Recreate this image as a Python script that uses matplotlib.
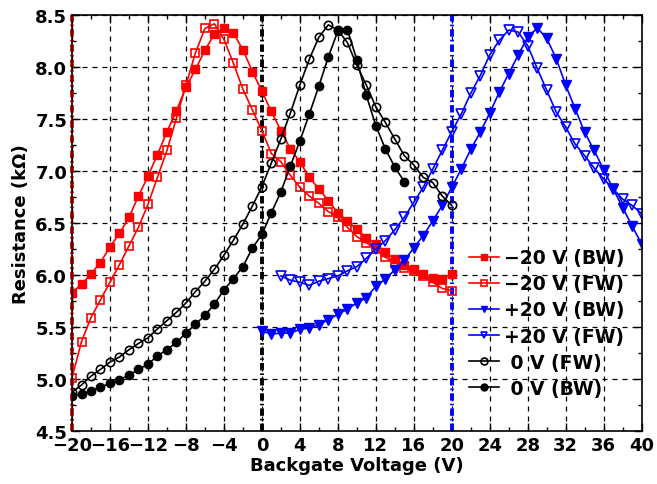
import numpy as np
import matplotlib.pyplot as plt
from matplotlib.ticker import MultipleLocator, FormatStrFormatter

# -20 V pre-bias, backward and forward sweeps
vg_m20 = list(range(-20, 21))
r_m20_bw = [5.83, 5.91, 6.01, 6.12, 6.27, 6.40, 6.555, 6.76, 6.95, 7.16,
            7.38, 7.58, 7.81, 7.98, 8.165, 8.32, 8.38, 8.33, 8.17, 7.96,
            7.77, 7.575, 7.39, 7.215, 7.09, 6.94, 6.83, 6.715, 6.60, 6.52,
            6.44, 6.36, 6.30, 6.22, 6.15, 6.10, 6.056, 6.007, 5.975, 5.96,
            6.007]
r_m20_fw = [5.01, 5.357, 5.59, 5.76, 5.93, 6.10, 6.28, 6.46, 6.68, 6.94,
            7.20, 7.51, 7.83, 8.14, 8.375, 8.42, 8.27, 8.04, 7.79, 7.59,
            7.39, 7.17, 7.09, 6.96, 6.845, 6.76, 6.69, 6.61, 6.555, 6.46,
            6.37, 6.31, 6.25, 6.17, 6.12, 6.07, 6.04, 5.99, 5.93, 5.87,
            5.85]

# +20 V pre-bias
vg_p20_bw = list(range(0, 41))
r_p20_bw = [5.46, 5.43, 5.44, 5.44, 5.475, 5.49, 5.52, 5.57, 5.62, 5.67,
            5.73, 5.78, 5.89, 5.96, 6.05, 6.14, 6.26, 6.38, 6.52, 6.67,
            6.845, 7.02, 7.21, 7.375, 7.56, 7.76, 7.94, 8.12, 8.29, 8.38,
            8.28, 8.085, 7.83, 7.60, 7.375, 7.20, 7.015, 6.83, 6.65, 6.47,
            6.30]
vg_p20_fw = list(range(2, 41))
r_p20_fw = [5.99, 5.95, 5.93, 5.90, 5.94, 5.965, 5.99, 6.04, 6.08, 6.16,
            6.25, 6.33, 6.435, 6.555, 6.70, 6.845, 7.02, 7.20, 7.38, 7.55,
            7.75, 7.92, 8.12, 8.26, 8.36, 8.34, 8.21, 7.99, 7.78, 7.57,
            7.425, 7.26, 7.15, 7.03, 6.925, 6.83, 6.73, 6.67, 6.59]

# 0 V pre-bias
vg_0_fw = list(range(-20, 21))
r_0_fw = [4.87, 4.94, 5.025, 5.09, 5.16, 5.21, 5.28, 5.34, 5.395, 5.48,
          5.56, 5.64, 5.73, 5.84, 5.94, 6.055, 6.19, 6.335, 6.49, 6.665,
          6.85, 7.08, 7.31, 7.56, 7.83, 8.08, 8.29, 8.41, 8.36, 8.24,
          8.02, 7.83, 7.62, 7.47, 7.31, 7.15, 7.06, 6.94, 6.89, 6.76,
          6.67]
vg_0_bw = list(range(-20, 16))
r_0_bw = [4.83, 4.855, 4.88, 4.92, 4.955, 4.99, 5.035, 5.09, 5.14, 5.22,
          5.28, 5.35, 5.44, 5.525, 5.61, 5.72, 5.855, 5.965, 6.08, 6.26,
          6.39, 6.60, 6.80, 7.05, 7.29, 7.55, 7.82, 8.10, 8.35, 8.365,
          8.075, 7.73, 7.44, 7.215, 7.04, 6.90]

# pre-bias voltages marked with vertical lines
bias_v = [-20, 0, 20]
bias_colors = ['red', 'black', 'blue']

plt.rcParams['font.family'] = 'DejaVu Sans'
plt.rcParams['font.weight'] = 'bold'

fig = plt.figure(figsize=(6.57, 4.85), dpi=100)
ax = fig.add_axes([0.1096, 0.110, 0.867, 0.856])

# vertical guide lines for the pre-bias gate voltages (dash-dot)
for v, c in zip(bias_v, bias_colors):
    ax.axvline(v, color=c, ls=(0, (1.9, 0.8, 0.4, 0.8)), lw=2.8, zorder=1, clip_on=False)

lw = 1.2
ax.plot(vg_m20, r_m20_bw, 's-', color='red', ms=5.5, lw=lw, label='\u221220 V (BW)')
ax.plot(vg_m20, r_m20_fw, 's-', color='red', ms=5.5, lw=lw, mfc='none', mew=1.2, label='\u221220 V (FW)')
ax.plot(vg_p20_bw, r_p20_bw, 'v-', color='blue', ms=7, lw=lw, label='+20 V (BW)')
ax.plot(vg_p20_fw, r_p20_fw, 'v-', color='blue', ms=7, lw=lw, mfc='none', mew=1.2, label='+20 V (FW)')
ax.plot(vg_0_fw, r_0_fw, 'o-', color='black', ms=6, lw=lw, mfc='none', mew=1.2, label=' 0 V (FW)')
ax.plot(vg_0_bw, r_0_bw, 'o-', color='black', ms=6, lw=lw, label=' 0 V (BW)')

ax.set_xlim(-20, 40)
ax.set_ylim(4.5, 8.5)
ax.xaxis.set_major_locator(MultipleLocator(4))
ax.xaxis.set_minor_locator(MultipleLocator(2))
ax.yaxis.set_major_locator(MultipleLocator(0.5))
ax.yaxis.set_minor_locator(MultipleLocator(0.25))
ax.yaxis.set_major_formatter(FormatStrFormatter('%.1f'))
ax.tick_params(which='both', direction='in', top=True, right=True, labelsize=13, width=1)
ax.tick_params(which='major', length=6)
ax.tick_params(which='minor', length=3)
for lab in ax.get_xticklabels() + ax.get_yticklabels():
    lab.set_fontweight('bold')
for sp in ax.spines.values():
    sp.set_linewidth(1.2)
    sp.set_zorder(3)

ax.grid(True, which='major', color='black', ls=(0, (4, 4)), lw=0.9)
ax.set_axisbelow(True)

ax.set_xlabel('Backgate Voltage (V)', fontsize=13, fontweight='bold', labelpad=2)
ax.set_ylabel('Resistance (k\u03a9)', fontsize=13, fontweight='bold', labelpad=4)

leg = ax.legend(loc='lower right', bbox_to_anchor=(0.99, 0.052), frameon=False,
                prop={'size': 13.5, 'weight': 'bold'}, handlelength=1.6,
                handletextpad=0.3, labelspacing=0.38, borderaxespad=0.2)
for h in leg.legend_handles:
    h.set_markersize(5)

plt.savefig('out.png', dpi=100)
